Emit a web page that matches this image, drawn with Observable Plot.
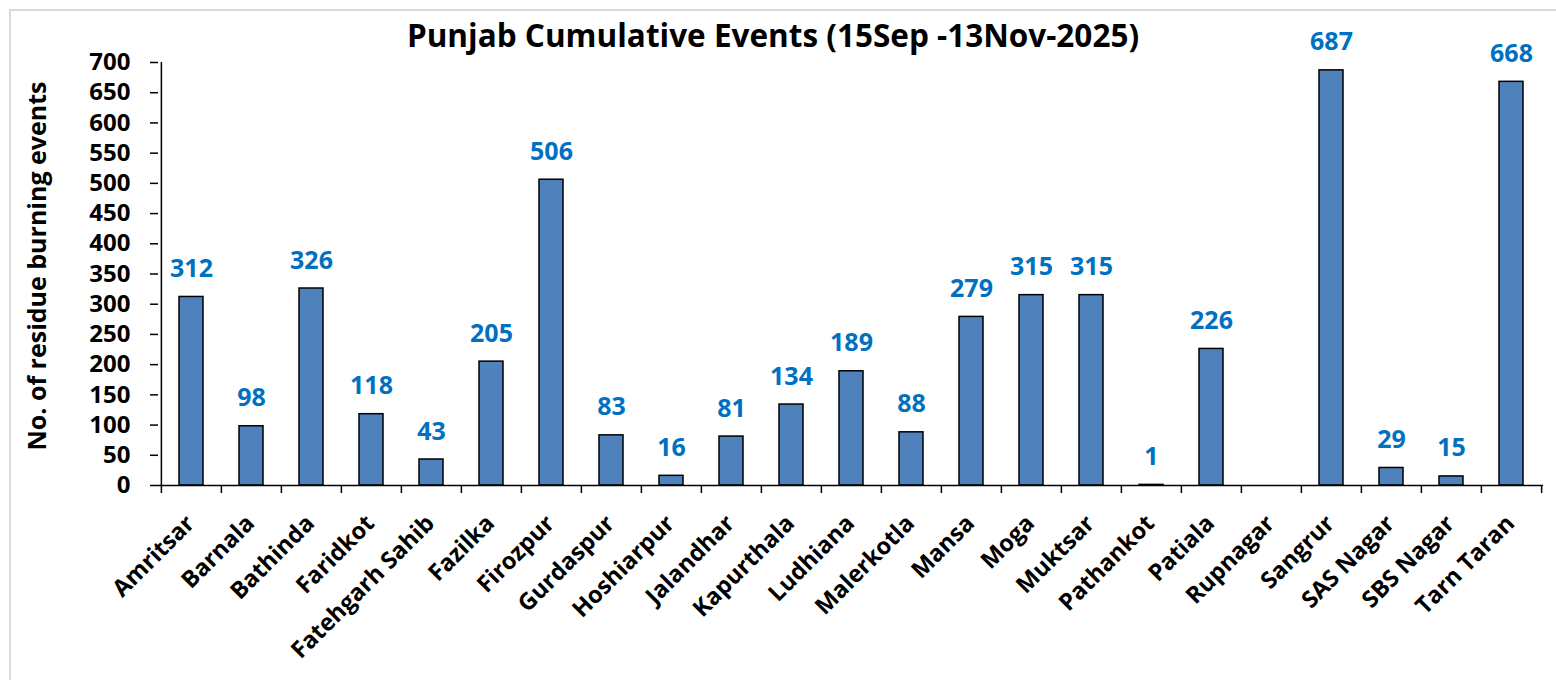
<!DOCTYPE html>
<html>
<head>
<meta charset="utf-8">
<script src="https://cdn.jsdelivr.net/npm/d3@7"></script>
<script src="https://cdn.jsdelivr.net/npm/@observablehq/plot@0.6"></script>
<style>
  html, body { margin: 0; padding: 0; background: #fff; overflow: hidden; }
  #wrap { position: relative; width: 1556px; height: 680px; }
  #frame { position: absolute; left: 9px; top: 9px; width: 1600px; height: 720px;
           border: 2px solid #d9d9d9; box-sizing: border-box; pointer-events: none; }
  #title { position: relative; height: 50px; width: 1546px; text-align: center;
           font-family: "Open Sans", sans-serif; font-weight: bold; font-size: 31.5px;
           line-height: 30px; box-sizing: border-box; color: #000; }
  #title span { position: relative; top: 20px; }
  #chart svg { display: block; }
</style>
</head>
<body>
<div id="wrap">
  <div id="frame"></div>
  <div id="title"><span>Punjab Cumulative Events (15Sep -13Nov-2025)</span></div>
  <div id="chart"></div>
</div>
<script>
const districts = ["Amritsar","Barnala","Bathinda","Faridkot","Fatehgarh Sahib","Fazilka","Firozpur","Gurdaspur","Hoshiarpur","Jalandhar","Kapurthala","Ludhiana","Malerkotla","Mansa","Moga","Muktsar","Pathankot","Patiala","Rupnagar","Sangrur","SAS Nagar","SBS Nagar","Tarn Taran"];
const events = [312,98,326,118,43,205,506,83,16,81,134,189,88,279,315,315,1,226,null,687,29,15,668];
const yTicks = [0,50,100,150,200,250,300,350,400,450,500,550,600,650,700];
const yLabel = "No. of residue burning events";

const data = districts.map((d, i) => ({district: d, value: events[i]}));
const labeled = data.filter(d => d.value != null);

const W = 1556, H = 630;
const mL = 158, mR = 13, mT = 12, mB = 195;
const step = (W - mL - mR) / districts.length;
const font = "'Open Sans', sans-serif";

const chart = Plot.plot({
  width: W, height: H,
  marginLeft: mL, marginRight: mR, marginTop: mT, marginBottom: mB,
  style: {fontFamily: font, fontWeight: "bold", color: "#000", background: "#fff", overflow: "visible"},
  x: {domain: districts, paddingInner: 0.6, paddingOuter: 0.3, axis: null},
  y: {domain: [0, 700], axis: null},
  marks: [
    Plot.barY(data.filter(d => d.value != null), {x: "district", y: "value", fill: "#4F81BD", stroke: "#000", strokeWidth: 1.5}),
    Plot.ruleY([0], {stroke: "#000", strokeWidth: 1.5}),
    Plot.ruleX([districts[0]], {x: d => d, y1: 0, y2: 700, dx: -step / 2, stroke: "#000", strokeWidth: 1.5}),
    Plot.ruleX(districts, {x: d => d, y1: 0, y2: 0, dx: -step / 2, insetBottom: -8, stroke: "#000", strokeWidth: 1.5}),
    Plot.ruleX([districts[districts.length - 1]], {x: d => d, y1: 0, y2: 0, dx: step / 2, insetBottom: -8, stroke: "#000", strokeWidth: 1.5}),
    Plot.axisY({ticks: yTicks, tickSize: 8, tickPadding: 20, fontSize: 24, fontWeight: "bold", label: null, strokeWidth: 1.5}),
    Plot.axisX({tickSize: 0, tickPadding: 34, tickRotate: -45, fontSize: 23.5, fontWeight: "bold", label: null, dx: -1}),
    Plot.text(labeled, {x: "district", y: "value", text: d => String(d.value), dy: -28, fill: "#0070C0", fontSize: 25, fontWeight: "bold"}),
    Plot.text([yLabel], {frameAnchor: "left", textAnchor: "middle", dx: -121, dy: -8, rotate: -90, text: d => d, fontSize: 25, fontWeight: "bold", fill: "#000"})
  ]
});
document.getElementById("chart").appendChild(chart);
</script>
</body>
</html>
